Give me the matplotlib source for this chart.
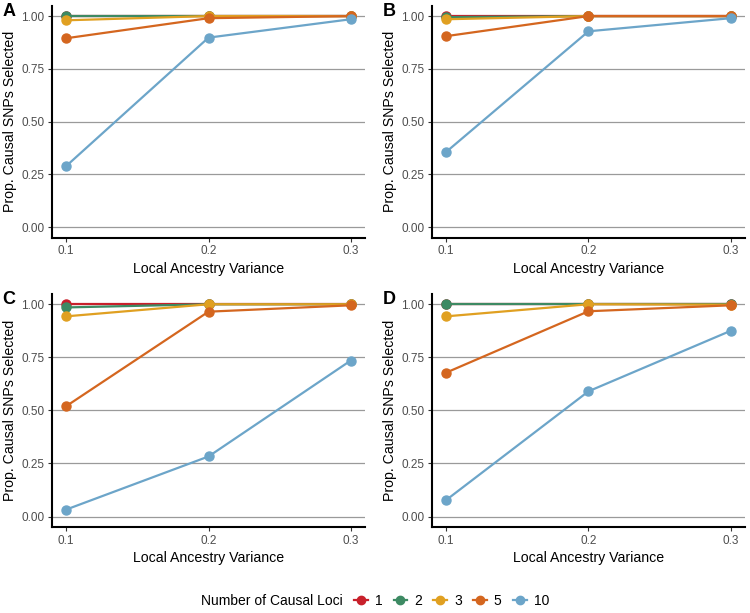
import matplotlib
matplotlib.use("Agg")
import matplotlib.pyplot as plt
from matplotlib.lines import Line2D
from matplotlib.offsetbox import HPacker

plt.rcParams['font.family'] = ['Liberation Sans', 'DejaVu Sans']

# data
variance = [0.1, 0.2, 0.3]
loci = ["1", "2", "3", "5", "10"]
colors = ["#C8202B", "#3D8A63", "#E0A021", "#D4661F", "#6CA5C9"]

panel_a = {
    "1": [1.0, 1.0, 1.0],
    "2": [1.0, 1.0, 1.0],
    "3": [0.98, 1.0, 1.0],
    "5": [0.895, 0.99, 1.0],
    "10": [0.29, 0.898, 0.985],
}
panel_b = {
    "1": [1.0, 1.0, 1.0],
    "2": [0.995, 1.0, 1.0],
    "3": [0.985, 1.0, 1.0],
    "5": [0.905, 1.0, 1.0],
    "10": [0.357, 0.928, 0.99],
}
panel_c = {
    "1": [1.0, 1.0, 1.0],
    "2": [0.985, 1.0, 1.0],
    "3": [0.943, 1.0, 1.0],
    "5": [0.52, 0.965, 0.995],
    "10": [0.033, 0.283, 0.735],
}
panel_d = {
    "1": [1.0, 1.0, 1.0],
    "2": [1.0, 1.0, 1.0],
    "3": [0.943, 1.0, 0.998],
    "5": [0.678, 0.967, 0.995],
    "10": [0.078, 0.59, 0.875],
}

panels = [("A", panel_a), ("B", panel_b), ("C", panel_c), ("D", panel_d)]

fig = plt.figure(figsize=(7.5, 6.13), dpi=100)

# axes boxes [left, bottom, width, height] in figure fractions
boxes = [
    [0.0693, 0.612, 0.4174, 0.379],
    [0.576, 0.612, 0.4173, 0.379],
    [0.0693, 0.140, 0.4174, 0.381],
    [0.576, 0.140, 0.4173, 0.381],
]

for (label, data), box in zip(panels, boxes):
    ax = fig.add_axes(box)
    for name, col in zip(loci, colors):
        ax.plot(variance, data[name], color=col, lw=1.6, marker="o",
                markersize=6.5, zorder=3)
    ax.set_xlim(0.09, 0.31)
    ax.set_ylim(-0.05, 1.05)
    ax.set_xticks(variance)
    ax.set_xticklabels(["0.1", "0.2", "0.3"])
    ax.set_yticks([0, 0.25, 0.5, 0.75, 1.0])
    ax.set_yticklabels(["0.00", "0.25", "0.50", "0.75", "1.00"])
    ax.yaxis.grid(True, color="#9a9a9a", lw=0.9)
    ax.set_axisbelow(True)
    for s in ["top", "right"]:
        ax.spines[s].set_visible(False)
    for s in ["left", "bottom"]:
        ax.spines[s].set_linewidth(1.5)
        ax.spines[s].set_color("black")
    ax.tick_params(axis="both", labelsize=8.5, labelcolor="#4d4d4d",
                   color="#333333", length=3, width=0.8, pad=2.5)
    ax.set_xlabel("Local Ancestry Variance", fontsize=10.2, labelpad=3)
    ax.set_ylabel("Prop. Causal SNPs Selected", fontsize=10.2, labelpad=3)
    fig.text(box[0] - 0.066, box[1] + box[3] - 0.01, label,
             fontsize=13, fontweight="bold", va="center", ha="left")

handles = [Line2D([0], [0], color=c, lw=1.6, marker="o", markersize=6)
           for c in colors]
fig.legend(handles, loci, loc="center", bbox_to_anchor=(0.5, 0.02),
           ncol=5, frameon=False, fontsize=10, title="Number of Causal Loci",
           title_fontsize=10, handlelength=1.0, handletextpad=0.5,
           columnspacing=0.8, borderpad=0)
leg = fig.legends[0]
# put the title on the same line as the keys
title_box = leg._legend_title_box
leg._legend_box._children.remove(title_box)
children = leg._legend_box.get_children()
leg._legend_box._children = [HPacker(pad=0, sep=8, align="center",
                                     children=[title_box] + children)]

fig.savefig("out.png", dpi=100)
